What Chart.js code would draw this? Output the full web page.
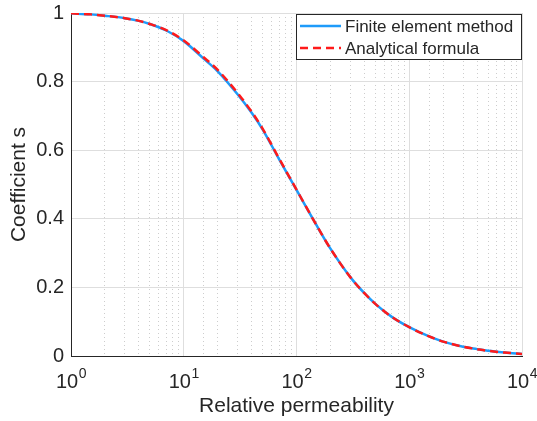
<!DOCTYPE html>
<html lang="en">
<head>
<meta charset="UTF-8">
<title>Coefficient s vs relative permeability</title>
<script src="https://cdn.jsdelivr.net/npm/chart.js"></script>
<style>
  body { margin: 0; background: #fff; }
  #wrap { width: 537px; height: 421px; }
</style>
</head>
<body>
<div id="wrap"><canvas id="myChart" width="537" height="421"></canvas></div>
<script>
// values
const relPerm = [1, 1.5, 2, 3, 4, 5, 7, 10, 15, 20, 30, 40, 50, 70, 100, 150, 200, 300, 400, 500, 700, 1000, 1500, 2000, 3000, 4000, 5000, 7000, 10000];
const femCoef = [0.999, 0.996, 0.992, 0.985, 0.977, 0.968, 0.949, 0.918, 0.867, 0.830, 0.763, 0.709, 0.661, 0.574, 0.484, 0.382, 0.313, 0.230, 0.183, 0.152, 0.114, 0.084, 0.057, 0.042, 0.027, 0.020, 0.015, 0.010, 0.006];
const analyticCoef = [0.999, 0.996, 0.992, 0.985, 0.977, 0.968, 0.950, 0.920, 0.871, 0.834, 0.767, 0.712, 0.663, 0.576, 0.485, 0.382, 0.313, 0.230, 0.183, 0.152, 0.114, 0.084, 0.057, 0.042, 0.027, 0.020, 0.015, 0.010, 0.006];
const yTicks = [0, 0.2, 0.4, 0.6, 0.8, 1];
const yTickLabels = ['0', '0.2', '0.4', '0.6', '0.8', '1'];
const xDecades = [1, 10, 100, 1000, 10000];
const xExponents = ['0', '1', '2', '3', '4'];
const seriesNames = ['Finite element method', 'Analytical formula'];

const FONT = "'Liberation Sans', Arial, Helvetica, sans-serif";
const TEXT = '#262626';

function isDecade(v) {
    const l = Math.log10(v);
    return Math.abs(l - Math.round(l)) < 1e-9;
}

// 10^n labels with a raised exponent
const powerLabels = {
    id: 'powerLabels',
    afterDraw(chart) {
        const ctx = chart.ctx;
        const sx = chart.scales.x;
        const base = sx.top + 32;
        ctx.save();
        ctx.fillStyle = TEXT;
        ctx.textBaseline = 'alphabetic';
        ctx.textAlign = 'left';
        xDecades.forEach((v, i) => {
            const px = sx.getPixelForValue(v);
            ctx.font = '20px ' + FONT;
            const wb = ctx.measureText('10').width;
            ctx.font = '14px ' + FONT;
            const we = ctx.measureText(xExponents[i]).width;
            const left = px - (wb + we) / 2;
            ctx.font = '20px ' + FONT;
            ctx.fillText('10', left, base);
            ctx.font = '14px ' + FONT;
            ctx.fillText(xExponents[i], left + wb + 0.5, base - 10);
        });
        ctx.restore();
    }
};

// legend drawn inside the plot, top right, like the original
const boxLegend = {
    id: 'boxLegend',
    afterDraw(chart) {
        const ctx = chart.ctx;
        const area = chart.chartArea;
        const w = 226, h = 46;
        const x0 = area.right - w, y0 = area.top + 1;
        ctx.save();
        ctx.fillStyle = '#fff';
        ctx.fillRect(x0, y0, w, h);
        ctx.strokeStyle = TEXT;
        ctx.lineWidth = 1;
        ctx.strokeRect(x0 + 0.5, y0 + 0.5, w - 1, h - 1);
        ctx.font = '17px ' + FONT;
        ctx.textBaseline = 'middle';
        chart.data.datasets.forEach((ds, i) => {
            const yy = y0 + 12 + i * 22;
            ctx.beginPath();
            ctx.strokeStyle = ds.borderColor;
            ctx.lineWidth = ds.borderWidth;
            ctx.setLineDash(ds.borderDash || []);
            ctx.moveTo(x0 + 4, yy);
            ctx.lineTo(x0 + 45, yy);
            ctx.stroke();
            ctx.setLineDash([]);
            ctx.fillStyle = TEXT;
            ctx.fillText(ds.label, x0 + 49, yy + 1);
        });
        ctx.restore();
    }
};

const ctx = document.getElementById('myChart').getContext('2d');
const myChart = new Chart(ctx, {
    type: 'line',
    data: {
        datasets: [
            {
                label: seriesNames[0],
                data: relPerm.map((x, i) => ({ x: x, y: femCoef[i] })),
                borderColor: '#1E9BFA',
                borderWidth: 2.5,
                pointRadius: 0,
                cubicInterpolationMode: 'monotone',
                order: 1
            },
            {
                label: seriesNames[1],
                data: relPerm.map((x, i) => ({ x: x, y: analyticCoef[i] })),
                borderColor: '#FF1A1A',
                borderWidth: 2.5,
                borderDash: [8, 5],
                pointRadius: 0,
                cubicInterpolationMode: 'monotone',
                order: 0
            }
        ]
    },
    options: {
        responsive: false,
        animation: false,
        layout: { padding: { left: 0, right: 15, top: 13, bottom: 0 } },
        plugins: { legend: { display: false }, tooltip: { enabled: false } },
        scales: {
            x: {
                type: 'logarithmic',
                min: 1,
                max: 10000,
                afterFit: s => {
                    s.height = 65;
                    s.paddingLeft = 0;
                    s.paddingRight = 0;
                },
                ticks: {
                    autoSkip: false,
                    maxRotation: 0,
                    callback: () => ''
                },
                grid: {
                    drawTicks: false,
                    color: c => (c.tick && isDecade(c.tick.value) ? '#dedede' : '#cdcdcd'),
                    lineWidth: 1
                },
                border: {
                    color: TEXT,
                    width: 1,
                    dash: c => (c.tick && !isDecade(c.tick.value) ? [1, 3] : [])
                },
                title: {
                    display: true,
                    text: 'Relative permeability',
                    color: TEXT,
                    font: { family: FONT, size: 21 },
                    padding: { top: 0, bottom: 2 }
                }
            },
            y: {
                min: 0,
                max: 1,
                afterFit: s => {
                    s.width = 71;
                    s.paddingTop = 0;
                    s.paddingBottom = 0;
                },
                afterBuildTicks: s => { s.ticks = yTicks.map(v => ({ value: v })); },
                ticks: {
                    padding: 7,
                    color: TEXT,
                    font: { family: FONT, size: 20 },
                    callback: (v, i) => yTickLabels[i]
                },
                grid: { drawTicks: false, color: '#dedede', lineWidth: 1 },
                border: { color: TEXT, width: 1 },
                title: {
                    display: true,
                    text: 'Coefficient s',
                    color: TEXT,
                    font: { family: FONT, size: 21 },
                    padding: { top: 7, bottom: 0 }
                }
            }
        }
    },
    plugins: [powerLabels, boxLegend]
});
</script>
</body>
</html>
